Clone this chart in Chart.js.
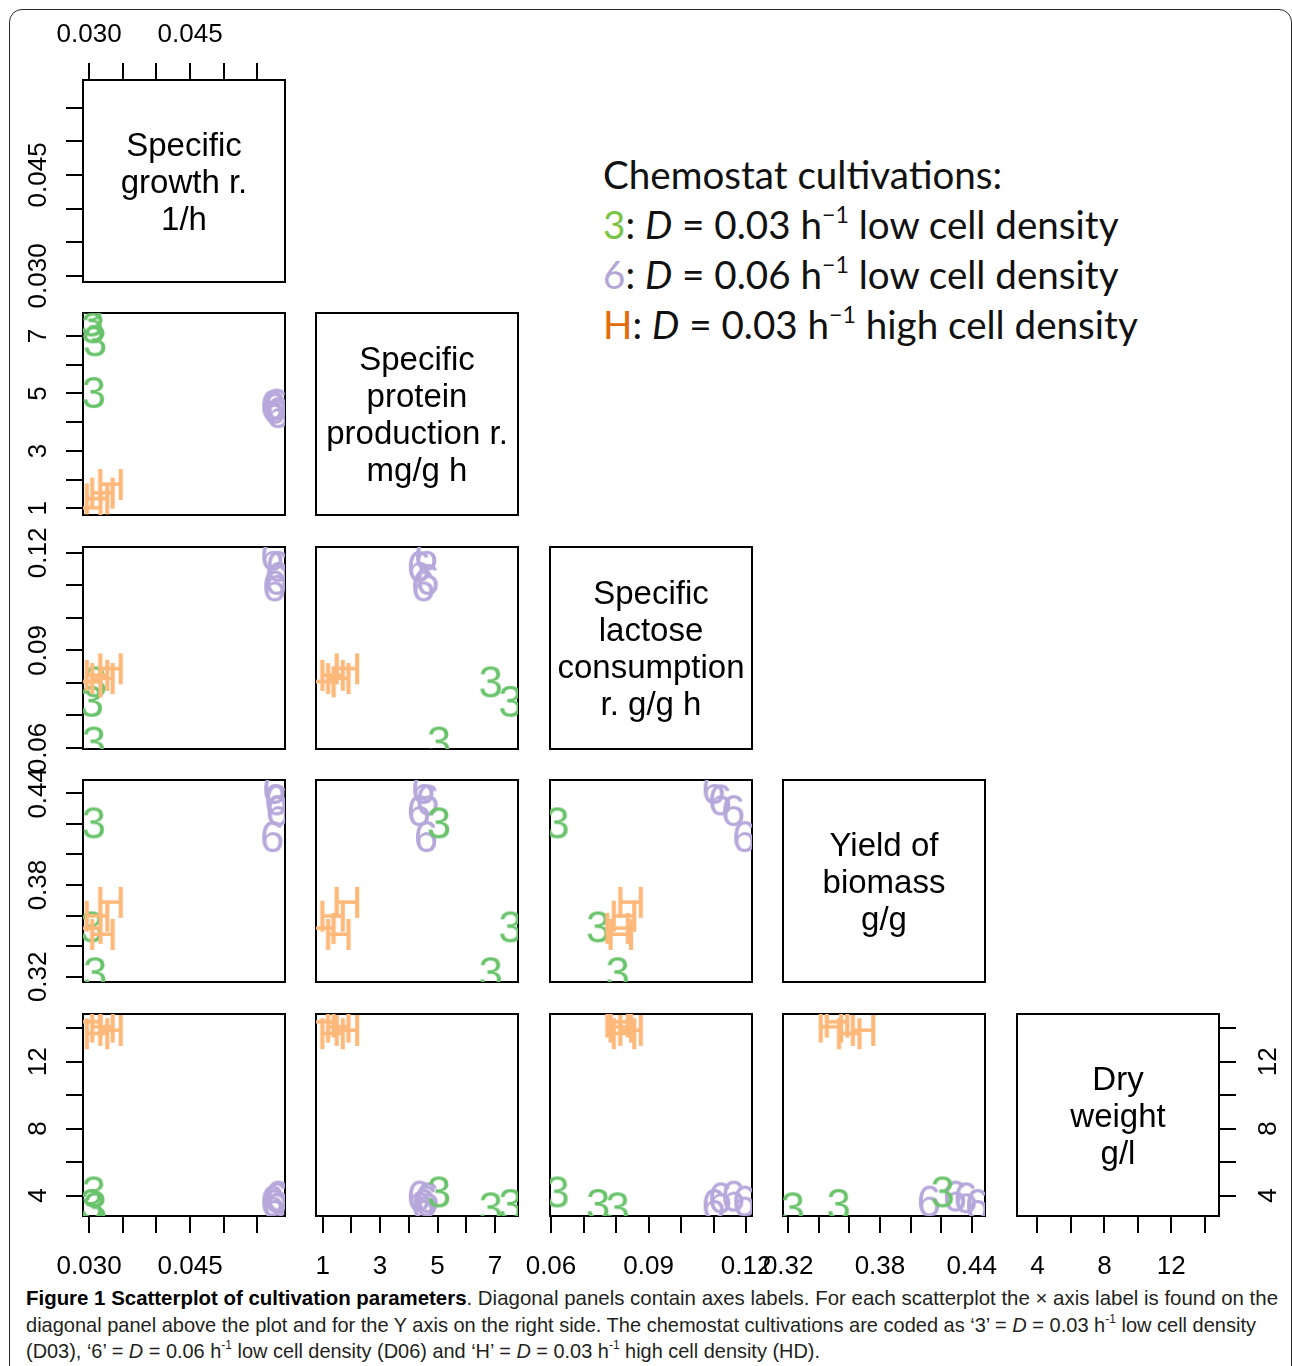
<!DOCTYPE html>
<html lang="en">
<head>
<meta charset="utf-8">
<title>Figure 1 Scatterplot of cultivation parameters</title>
<script src="https://cdn.jsdelivr.net/npm/chart.js@4.4.1/dist/chart.umd.min.js"></script>
<style>
  html, body { margin: 0; padding: 0; background: #fff; }
  #page { position: relative; width: 1292px; height: 1366px; overflow: hidden; background: #fff; }
  #frame { position: absolute; left: 9px; top: 9px; width: 1283px; height: 1420px; box-sizing: border-box;
           border: 1.5px solid #2b2b2b; border-radius: 13px; }
  .panel { position: absolute; }
  .diag { position: absolute; display: flex; align-items: center; justify-content: center; text-align: center;
          white-space: pre-line; font-family: "Liberation Sans", Arial, sans-serif; font-size: 33px;
          line-height: 37px; color: #000; }
  #legend { position: absolute; left: 603px; top: 149px; font-family: Lato, "Open Sans", sans-serif;
            font-size: 38.6px; line-height: 50px; color: #111; white-space: nowrap; }
  #legend sup, #caption sup { font-size: 0.6em; line-height: 0; vertical-align: 0.7em; }
  .k3 { color: #7cc443; }
  .k6 { color: #b3a5d6; }
  .kH { color: #e36c0a; }
  #caption { position: absolute; left: 26px; top: 1285px; width: 1260px;
             font-family: "Liberation Sans", Arial, sans-serif;
             font-size: 21px; line-height: 26.5px; color: #231f20; }
  #caption .l { height: 26.5px; white-space: nowrap; }
  #caption .l span { display: inline-block; transform-origin: 0 50%; }
  #caption b { color: #000; }
</style>
</head>
<body>
<div id="page">
  <div id="frame"></div>
  <div id="legend">
    <div>Chemostat cultivations:</div>
    <div><span class="k3">3</span>: <i>D</i> = 0.03 h<sup>−1</sup> low cell density</div>
    <div><span class="k6">6</span>: <i>D</i> = 0.06 h<sup>−1</sup> low cell density</div>
    <div><span class="kH">H</span>: <i>D</i> = 0.03 h<sup>−1</sup> high cell density</div>
  </div>
  <div id="caption">
    <div class="l" data-w="1252"><span><b>Figure 1 Scatterplot of cultivation parameters</b>. Diagonal panels contain axes labels. For each scatterplot the × axis label is found on the</span></div>
    <div class="l" data-w="1230"><span>diagonal panel above the plot and for the Y axis on the right side. The chemostat cultivations are coded as ‘3’ = <i>D</i> = 0.03 h<sup>-1</sup> low cell density</span></div>
    <div class="l" data-w="794"><span>(D03), ‘6’ = <i>D</i> = 0.06 h<sup>-1</sup> low cell density (D06) and ‘H’ = <i>D</i> = 0.03 h<sup>-1</sup> high cell density (HD).</span></div>
  </div>
</div>
<script>
/* global Chart */

// diagonal panel texts
const panelLabels = [
  "Specific\ngrowth r.\n1/h",
  "Specific\nprotein\nproduction r.\nmg/g h",
  "Specific\nlactose\nconsumption\nr. g/g h",
  "Yield of\nbiomass\ng/g",
  "Dry\nweight\ng/l",
];

// '3' : D = 0.03 1/h, low cell density
const growth3 = [0.0307, 0.0304, 0.0309, 0.0306];
const protein3 = [5.05, 7.54, 6.85, 7.30];
const lactose3 = [0.0620, 0.0745, 0.0805, null];
const yield3 = [0.421, 0.353, 0.323, null];
const dry3 = [4.25, 3.50, 3.30, null];

// '6' : D = 0.06 1/h, low cell density
const growth6 = [0.0575, 0.0578, 0.0580, 0.0572];
const protein6 = [4.50, 4.65, 4.35, 4.60];
const lactose6 = [0.1100, 0.1120, 0.1160, 0.1194];
const yield6 = [0.4435, 0.4360, 0.4290, 0.4120];
const dry6 = [3.50, 3.90, 4.00, 3.70];

// 'H' : D = 0.03 1/h, high cell density
const growthH = [0.0302, 0.0312, 0.0320, 0.0332];
const proteinH = [1.03, 1.35, 1.55, 1.85];
const lactoseH = [0.0805, 0.0825, 0.0815, 0.0845];
const yieldH = [0.352, 0.360, 0.348, 0.369];
const dryH = [14.40, 13.70, 14.10, 13.90];

// axis limits, tick values and the tick labels that are printed
const growthLimits = [0.0291, 0.0591];
const growthTicks = [0.030, 0.035, 0.040, 0.045, 0.050, 0.055];
const growthTickLabels = ["0.030", "0.045"];

const proteinLimits = [0.77, 7.80];
const proteinTicks = [1, 2, 3, 4, 5, 6, 7];
const proteinTickLabels = ["1", "3", "5", "7"];

const lactoseLimits = [0.0597, 0.1218];
const lactoseTicks = [0.06, 0.07, 0.08, 0.09, 0.10, 0.11, 0.12];
const lactoseTickLabels = ["0.06", "0.09", "0.12"];

const yieldLimits = [0.3166, 0.4487];
const yieldTicks = [0.32, 0.34, 0.36, 0.38, 0.40, 0.42, 0.44];
const yieldTickLabels = ["0.32", "0.38", "0.44"];

const dryLimits = [2.78, 14.85];
const dryTicks = [4, 6, 8, 10, 12, 14];
const dryTickLabels = ["4", "8", "12"];

(() => {
  "use strict";

  const FONT = "'Liberation Sans', Arial, Helvetica, sans-serif";
  const COL_X = [83, 316, 550, 783, 1017];
  const ROW_Y = [80, 313, 547, 780, 1014];
  const BOX = 202;
  const M = 80;
  const TICK_LEN = 17;
  const TICK_SIZE = 26;
  const GLYPH_SIZE = 44;
  const DIST = { top: 45, bottom: 51, left: 44, right: 50 };

  const page = document.getElementById("page");

  const vars = [
    { limits: growthLimits, ticks: growthTicks, shown: growthTickLabels,
      series: { "3": growth3, "6": growth6, H: growthH } },
    { limits: proteinLimits, ticks: proteinTicks, shown: proteinTickLabels,
      series: { "3": protein3, "6": protein6, H: proteinH } },
    { limits: lactoseLimits, ticks: lactoseTicks, shown: lactoseTickLabels,
      series: { "3": lactose3, "6": lactose6, H: lactoseH } },
    { limits: yieldLimits, ticks: yieldTicks, shown: yieldTickLabels,
      series: { "3": yield3, "6": yield6, H: yieldH } },
    { limits: dryLimits, ticks: dryTicks, shown: dryTickLabels,
      series: { "3": dry3, "6": dry6, H: dryH } },
  ];

  // first dataset is drawn on top in Chart.js
  const groups = [
    { key: "H", color: "#fdb87a" },
    { key: "3", color: "#69c36b" },
    { key: "6", color: "#b6a8da" },
  ];

  // text glyphs used as point styles
  const makeGlyph = (ch, color) => {
    const c = document.createElement("canvas");
    c.width = 60;
    c.height = 60;
    const g = c.getContext("2d");
    g.font = `${GLYPH_SIZE}px ${FONT}`;
    g.fillStyle = color;
    g.textAlign = "center";
    g.textBaseline = "alphabetic";
    const m = g.measureText(ch);
    g.fillText(ch, 30, 30 + (m.actualBoundingBoxAscent - m.actualBoundingBoxDescent) / 2);
    return c;
  };
  const glyphs = {};
  groups.forEach((g) => { glyphs[g.key] = makeGlyph(g.key, g.color); });

  const meter = document.createElement("canvas").getContext("2d");
  const textWidth = (s) => {
    meter.font = `normal ${TICK_SIZE}px ${FONT}`;
    return meter.measureText(s).width;
  };

  const decimals = (v) => (v.shown[0].split(".")[1] || "").length;

  const makeAxis = (v, position, show) => {
    const vertical = position === "left" || position === "right";
    const widest = Math.max(...v.shown.map(textWidth));
    const pad = vertical
      ? DIST[position] - TICK_LEN - widest / 2
      : DIST[position] - TICK_LEN - (TICK_SIZE * 1.2) / 2;
    const dec = decimals(v);
    return {
      type: "linear",
      position,
      min: v.limits[0],
      max: v.limits[1],
      bounds: "data",
      afterBuildTicks: (s) => { s.ticks = v.ticks.map((value) => ({ value })); },
      afterFit: (s) => {
        if (vertical) s.width = M; else s.height = M;
        s.paddingLeft = 0; s.paddingRight = 0; s.paddingTop = 0; s.paddingBottom = 0;
      },
      border: { display: true, color: "#000", width: 2 },
      grid: {
        display: true,
        drawOnChartArea: false,
        drawTicks: show,
        tickLength: show ? TICK_LEN : 0,
        lineWidth: 2,
        tickWidth: 2,
        tickColor: "#000",
        color: "#000",
      },
      ticks: {
        display: show,
        autoSkip: false,
        padding: pad,
        color: "#000",
        font: { family: FONT, size: TICK_SIZE },
        minRotation: vertical ? 90 : 0,
        maxRotation: vertical ? 90 : 0,
        crossAlign: vertical ? "center" : "near",
        callback: (value) => {
          const t = Number(value).toFixed(dec);
          return v.shown.includes(t) ? t : "";
        },
      },
    };
  };

  const makePanel = (i, j) => {
    const canvas = document.createElement("canvas");
    canvas.className = "panel";
    canvas.width = BOX + 2 * M;
    canvas.height = BOX + 2 * M;
    canvas.style.left = `${COL_X[j] - M}px`;
    canvas.style.top = `${ROW_Y[i] - M}px`;
    page.appendChild(canvas);

    const xv = vars[j];
    const yv = vars[i];
    const datasets = i === j ? [] : groups.map((g) => ({
      label: g.key,
      data: xv.series[g.key]
        .map((x, k) => ({ x, y: yv.series[g.key][k] }))
        .filter((p) => p.x !== null && p.y !== null),
      pointStyle: glyphs[g.key],
      pointRadius: 6,
      pointHoverRadius: 6,
      clip: 0,
    }));

    new Chart(canvas, {
      type: "scatter",
      data: { datasets },
      options: {
        responsive: false,
        animation: false,
        devicePixelRatio: 1,
        events: [],
        layout: { padding: 0 },
        plugins: { legend: { display: false }, tooltip: { enabled: false } },
        scales: {
          x: makeAxis(xv, "bottom", i === 4),
          x2: makeAxis(xv, "top", i === 0 && j === 0),
          y: makeAxis(yv, "left", j === 0),
          y2: makeAxis(yv, "right", i === 4 && j === 4),
        },
      },
    });

    if (i === j) {
      const lab = document.createElement("div");
      lab.className = "diag";
      lab.style.left = `${COL_X[j]}px`;
      lab.style.top = `${ROW_Y[i]}px`;
      lab.style.width = `${BOX}px`;
      lab.style.height = `${BOX}px`;
      lab.textContent = panelLabels[i];
      page.appendChild(lab);
    }
  };

  for (let i = 0; i < 5; i++) {
    for (let j = 0; j <= i; j++) makePanel(i, j);
  }

  // squeeze caption lines to the condensed width of the original
  document.querySelectorAll("#caption .l").forEach((line) => {
    const span = line.querySelector("span");
    const target = Number(line.dataset.w);
    const w = span.getBoundingClientRect().width;
    if (w > 0) span.style.transform = `scaleX(${target / w})`;
  });
})();
</script>
</body>
</html>
